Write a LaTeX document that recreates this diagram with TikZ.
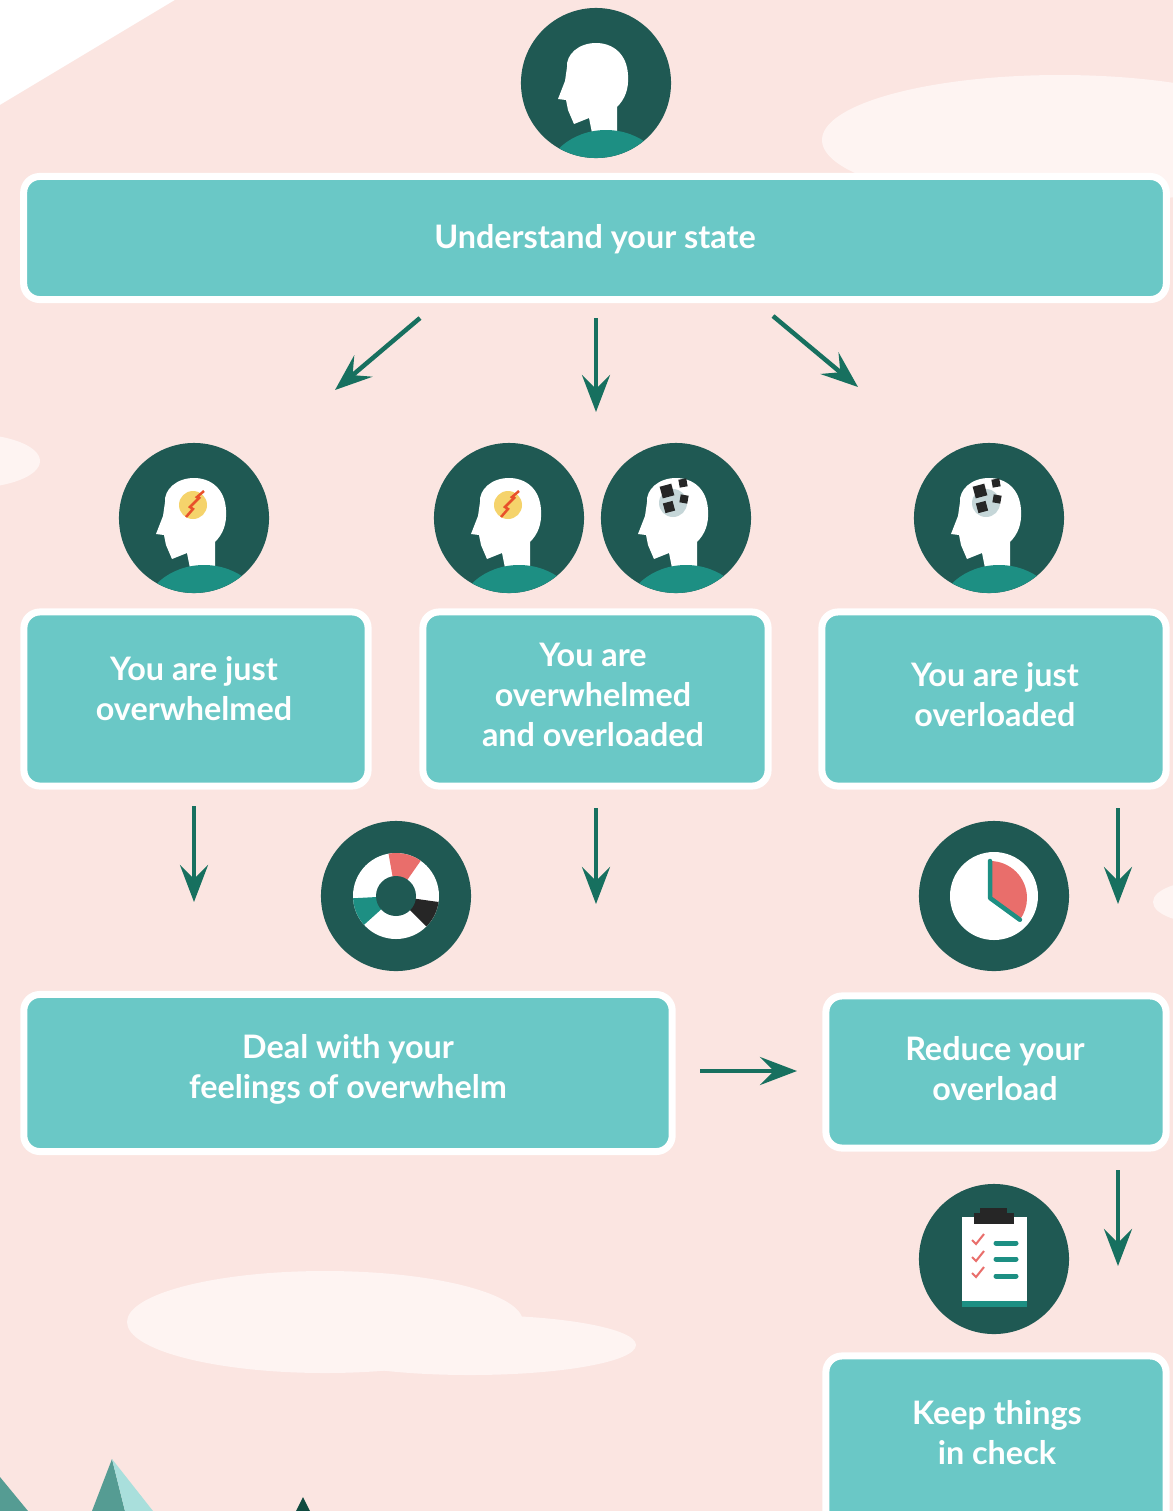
\documentclass[tikz,border=0pt]{standalone}
\usepackage{fontspec}
\setsansfont{Lato}
\usetikzlibrary{arrows.meta, positioning}

\definecolor{blush}{HTML}{FBE5E1}
\definecolor{cloud}{HTML}{FEF4F2}
\definecolor{boxteal}{HTML}{6AC8C6}
\definecolor{pine}{HTML}{1F5953}
\definecolor{jade}{HTML}{1D8F83}
\definecolor{arrowgreen}{HTML}{17705F}
\definecolor{coral}{HTML}{E96E6B}
\definecolor{spark}{HTML}{F5D36B}
\definecolor{zap}{HTML}{E8502A}
\definecolor{fog}{HTML}{C5D6D8}
\definecolor{ink}{HTML}{262626}
\definecolor{rockdark}{HTML}{559C93}
\definecolor{rocklight}{HTML}{A9DFDC}
\definecolor{pinetree}{HTML}{0F4A3F}

\tikzset{%
	cardtext/.style={
		text=white,
		align=center,
		inner sep=0pt,
		font=\sffamily\bfseries\fontsize{9.2}{11.4}\selectfont
	},
	card/.style={
		draw=white,
		fill=boxteal,
		line width=0.07cm,
		rounded corners=0.16cm,
		inner sep=0pt
	},
	badge/.style={
		circle,
		fill=pine,
		minimum size=1.5cm,
		inner sep=0pt
	},
	% plain head with shoulders
	head/.pic={
		\fill[white] (-22,41) -- (-7,35) -- (-4,50) -- (21,50) -- (21,24)
			.. controls (29,16) and (33,6) .. (32,-8)
			.. controls (31,-29) and (17,-40) .. (0,-40)
			.. controls (-18,-40) and (-30,-28) .. (-29,-16)
			-- (-31,-2) -- (-38,16) -- (-30,17) -- (-28,27) -- cycle;
		\begin{scope}
			\clip (0,0) circle (75);
			\fill[jade] (10,100) ellipse (62 and 53);
		\end{scope}
	},
	bolt/.pic={
		\fill[spark] (-1,-13) circle (14);
		\draw[zap, line width=0.025cm] (10,-27) -- (3,-21) -- (5,-20) -- (-4,-11) -- (-1,-9) -- (-8,-1);
	},
	blocks/.pic={
		\fill[fog] (-3,-15) circle (14);
		\fill[ink, shift={(-9,-27)}, rotate=15] (-6,-6) rectangle (6,6);
		\fill[ink, shift={(7,-35)}, rotate=10] (-4,-4) rectangle (4,4);
		\fill[ink, shift={(8,-19)}, rotate=-10] (-4,-4) rectangle (4,4);
		\fill[ink, shift={(-7,-11)}, rotate=15] (-5,-5) rectangle (5,5);
	},
	dial/.pic={
		\fill[white] (0,0) circle (43);
		\begin{scope}[yscale=-1]
			\fill[coral] (0,0) -- (55:43) arc[start angle=55, end angle=100, radius=43] -- cycle;
			\fill[ink] (0,0) -- (-45:43) arc[start angle=-45, end angle=-8, radius=43] -- cycle;
			\fill[jade] (0,0) -- (183:43) arc[start angle=183, end angle=222, radius=43] -- cycle;
		\end{scope}
		\fill[pine] (0,0) circle (20);
	},
	timer/.pic={
		\fill[white] (0,0) circle (44);
		\begin{scope}[shift={(-4,2)}, yscale=-1]
			\fill[coral] (0,0) -- (90:37) arc[start angle=90, end angle=-36, radius=37] -- cycle;
			\draw[jade, line width=0.045cm, line cap=round, line join=round] (90:37) -- (0,0) -- (-36:37);
		\end{scope}
	},
	clipboard/.pic={
		\fill[white] (-32,-42) rectangle (33,48);
		\fill[jade] (-32,42) rectangle (33,48);
		\fill[ink] (-20,-46) rectangle (20,-35);
		\fill[ink] (-14,-51) rectangle (13,-45);
		\foreach \y in {-19,-2,14}
			\draw[coral, line width=0.02cm] (-22,\y) -- (-18,\y+4) -- (-10,\y-6);
		\foreach \y in {-16,0,17}
			\draw[jade, line width=0.05cm, line cap=round] (2,\y) -- (22,\y);
	},
}

\begin{document}
\begin{tikzpicture}[
		x=0.01cm, y=-0.01cm,
		flow/.style={draw=arrowgreen, line width=0.045cm, -{Stealth[length=0.37cm, width=0.28cm, inset=0.14cm]}}
		]
		
		\useasboundingbox (0,0) rectangle (1173,1511);
		\clip (0,0) rectangle (1173,1511);
		
		% backdrop, clouds and hills
		\fill[white] (0,0) rectangle (1173,1511);
		\fill[blush] (175,0) -- (1173,0) -- (1173,1511) -- (0,1511) -- (0,105) -- cycle;
		\fill[cloud] (1060,140) ellipse (238 and 65);
		\fill[cloud] (-30,461) ellipse (70 and 27);
		\fill[cloud] (1210,902) ellipse (57 and 22);
		\fill[cloud] (325,1322) ellipse (198 and 51);
		\fill[cloud] (470,1345) ellipse (166 and 30);
		\fill[rockdark] (0,1477) -- (28,1511) -- (0,1511) -- cycle;
		\fill[rockdark] (112,1459) -- (92,1511) -- (125,1511) -- cycle;
		\fill[rocklight] (112,1459) -- (125,1511) -- (153,1511) -- cycle;
		\fill[pinetree] (303,1497) -- (296,1511) -- (310,1511) -- cycle;
		
		% Top
		\node[badge] (me) at (596,83) {};
		\pic at (me) {head};
		\node[card, minimum width=11.42cm, minimum height=1.23cm] (state) at (595,238) {};
		\node[cardtext] (statelbl) at (595,239) {Understand your state};
		
		% Three states
		\node[badge] (owhead) at (194,518) {};
		\node[badge] (bothow) at (509,518) {};
		\node[badge] (bothol) at (676,518) {};
		\node[badge] (olhead) at (989,518) {};
		\pic at (owhead) {head};
		\pic at (owhead) {bolt};
		\pic at (bothow) {head};
		\pic at (bothow) {bolt};
		\pic at (bothol) {head};
		\pic at (bothol) {blocks};
		\pic at (olhead) {head};
		\pic at (olhead) {blocks};
		
		\node[card, minimum width=3.44cm, minimum height=1.74cm] (justow) at (196,699) {};
		\node[card, minimum width=3.45cm, minimum height=1.74cm] (both) at (595.5,699) {};
		\node[card, minimum width=3.44cm, minimum height=1.74cm] (justol) at (994,699) {};
		\node[cardtext] (justowlbl) at (194,689) {You are just\\overwhelmed};
		\node[cardtext] (bothlbl) at (593,695) {You are\\overwhelmed\\and overloaded};
		\node[cardtext] (justollbl) at (995,695) {You are just\\overloaded};
		
		% What to do
		\node[badge] (calm) at (396,896) {};
		\pic at (calm) {dial};
		\node[badge] (clock) at (994,896) {};
		\pic at (clock) {timer};
		\node[card, minimum width=6.48cm, minimum height=1.57cm] (deal) at (348,1073) {};
		\node[card, minimum width=3.40cm, minimum height=1.52cm] (reduce) at (996,1072) {};
		\node[cardtext] (deallbl) at (348,1069) {Deal with your\\feelings of overwhelm};
		\node[cardtext] (reducelbl) at (995,1069) {Reduce your\\overload};
		
		\node[badge] (plan) at (994,1259) {};
		\pic at (plan) {clipboard};
		\node[card, minimum width=3.40cm, minimum height=1.74cm] (keep) at (996,1443) {};
		\node[cardtext] (keeplbl) at (997,1433) {Keep things\\in check};
		
		% Arrows
		\coordinate (s1) at (420,318);  \coordinate (e1) at (335,390);
		\coordinate (s2) at (596,318);  \coordinate (e2) at (596,412);
		\coordinate (s3) at (773,316);  \coordinate (e3) at (858,387);
		\coordinate (s4) at (194,806);  \coordinate (e4) at (194,902);
		\coordinate (s5) at (596,808);  \coordinate (e5) at (596,904);
		\coordinate (s6) at (1118,808); \coordinate (e6) at (1118,904);
		\coordinate (s7) at (700,1071); \coordinate (e7) at (797,1071);
		\coordinate (s8) at (1118,1170); \coordinate (e8) at (1118,1266);
		\foreach \i in {1,...,8}
			\draw[flow] (s\i) -- (e\i);
		
	\end{tikzpicture}
\end{document}
